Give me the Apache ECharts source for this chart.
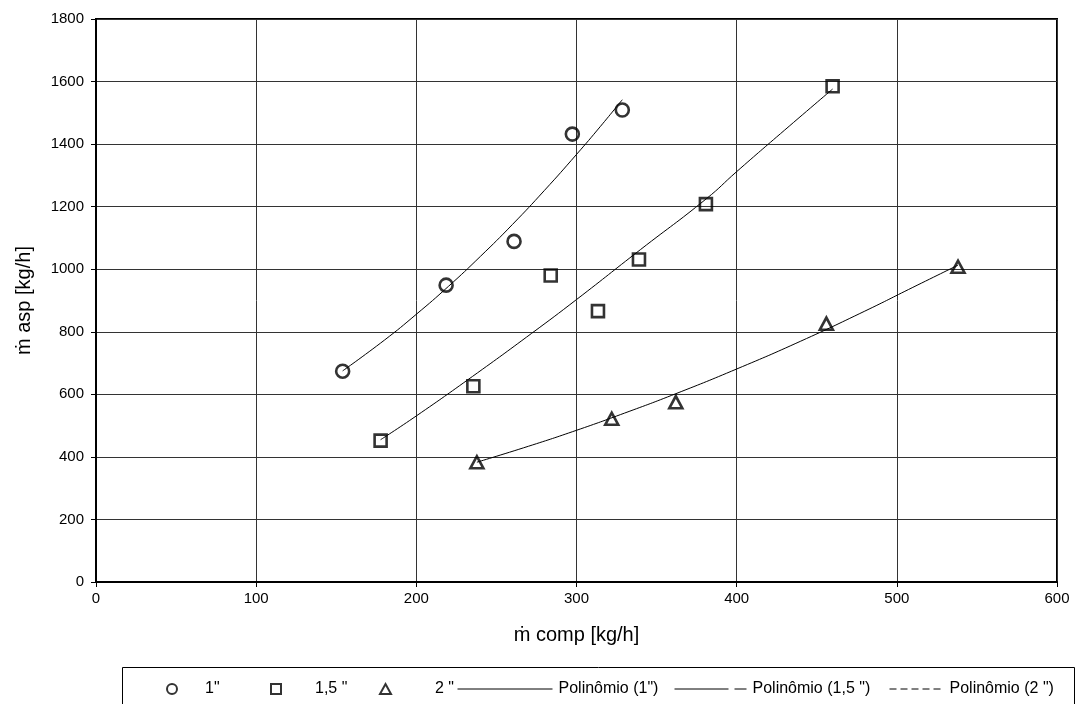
<!DOCTYPE html>
<html>
<head>
<meta charset="utf-8">
<script src="https://cdn.jsdelivr.net/npm/echarts@6/dist/echarts.min.js"></script>
<style>
  html, body { margin: 0; padding: 0; background: #fff; }
  #chart { width: 1077px; height: 704px; }
</style>
</head>
<body>
<div id="chart"></div>
<script>
const pts1 = [[154, 674], [218.6, 949], [261, 1089], [297.4, 1432], [328.6, 1509]]
const pts15 = [[177.7, 452], [235.6, 626], [283.9, 980], [313.4, 866], [339, 1031], [380.8, 1208], [459.9, 1585]]
const pts2 = [[237.8, 383], [322, 522], [362, 575], [456, 826], [538.2, 1008]]

// polynomial trend lines
const trend1 = [[154, 675], [180, 773], [200, 856], [220, 945], [240, 1041], [260, 1143], [280, 1252], [300, 1367], [315, 1457], [328.6, 1542]]
const trend15 = [[177.7, 455], [200, 531], [235, 657], [272, 795], [300, 903], [340, 1063], [381, 1225], [400, 1312], [430, 1445], [459.9, 1576]]
const trend2 = [[237.8, 383], [270, 434], [300, 485], [330, 540], [362, 602], [400, 681], [440, 770], [480, 866], [510, 942], [538.2, 1013]]

const names = ['1"', '1,5 "', '2 "', 'Polinômio (1")', 'Polinômio (1,5 ")', 'Polinômio (2 ")']

const font = 'Liberation Sans, Arial, sans-serif'
const chart = echarts.init(document.getElementById('chart'))

const markerStyle = { color: 'rgba(0,0,0,0)', borderColor: '#000', borderWidth: 2.6 }
const trendStyle = { color: '#000', width: 1 }

// one legend per entry so each can sit where it does in the original
const legendBase = {
  orient: 'horizontal',
  top: 676,
  textStyle: { color: '#000', fontFamily: font, fontSize: 16 },
  itemGap: 0,
  selectedMode: false
}
const legends = [
  { left: 161, data: [names[0]], itemWidth: 10, itemHeight: 10, pad: 23 },
  { left: 265, data: [names[1]], itemWidth: 10, itemHeight: 10, pad: 29 },
  { left: 374, data: [names[2]], itemWidth: 11, itemHeight: 10, pad: 39 },
  { left: 452, data: [names[3]], itemWidth: 95, itemHeight: 10, pad: 1, line: { type: 'solid', width: 1, color: '#000' } },
  { left: 669, data: [names[4]], itemWidth: 72, itemHeight: 10, pad: 1, line: { type: [54, 6, 12, 0], width: 1, color: '#000' } },
  { left: 884, data: [names[5]], itemWidth: 53, itemHeight: 10, pad: 2, line: { type: [7, 4], width: 1, color: '#000' } }
].map(l => {
  const o = Object.assign({}, legendBase, {
    left: l.left,
    data: l.data,
    itemWidth: l.itemWidth,
    itemHeight: l.itemHeight,
    textStyle: Object.assign({}, legendBase.textStyle, { padding: [0, 0, 0, l.pad] })
  })
  if (l.line) {
    o.lineStyle = l.line
    // hide the dot that a line series puts in its legend icon
    o.itemStyle = { color: 'rgba(0,0,0,0)', borderWidth: 0, opacity: 0 }
  }
  return o
})

const option = {
  animation: false,
  backgroundColor: '#fff',
  grid: {
    left: 96, right: 20, top: 19, bottom: 122,
    show: true, borderColor: '#000', borderWidth: 2
  },
  legend: legends,
  graphic: [{
    type: 'rect',
    shape: { x: 122.5, y: 667.5, width: 952, height: 40 },
    style: { fill: 'none', stroke: '#000', lineWidth: 1 }
  }],
  xAxis: {
    type: 'value', min: 0, max: 600, interval: 100,
    name: 'ṁ comp [kg/h]', nameLocation: 'middle', nameGap: 43,
    nameTextStyle: { color: '#000', fontFamily: font, fontSize: 20 },
    axisLine: { show: true, lineStyle: { color: '#000', width: 2 } },
    axisTick: { show: true, length: 5, lineStyle: { color: '#000' } },
    axisLabel: { color: '#000', fontFamily: font, fontSize: 15, margin: 9 },
    splitLine: { lineStyle: { color: '#333', width: 1 } }
  },
  yAxis: {
    type: 'value', min: 0, max: 1800, interval: 200,
    name: 'ṁ asp [kg/h]', nameLocation: 'middle', nameGap: 62, nameRotate: 90,
    nameTextStyle: { color: '#000', fontFamily: font, fontSize: 20 },
    axisLine: { show: true, lineStyle: { color: '#000', width: 2 } },
    axisTick: { show: true, length: 5, lineStyle: { color: '#000' } },
    axisLabel: { color: '#000', fontFamily: font, fontSize: 15, margin: 12, formatter: v => String(v) },
    splitLine: { lineStyle: { color: '#333', width: 1 } }
  },
  series: [
    { name: names[0], type: 'scatter', data: pts1, symbol: 'circle', symbolSize: 13, itemStyle: markerStyle, z: 3 },
    { name: names[1], type: 'scatter', data: pts15, symbol: 'rect', symbolSize: 12, itemStyle: markerStyle, z: 3 },
    { name: names[2], type: 'scatter', data: pts2, symbol: 'triangle', symbolSize: [13, 12], itemStyle: markerStyle, z: 3 },
    { name: names[3], type: 'line', data: trend1, smooth: true, symbol: 'none', lineStyle: trendStyle, itemStyle: { color: '#000' } },
    { name: names[4], type: 'line', data: trend15, smooth: true, symbol: 'none', lineStyle: trendStyle, itemStyle: { color: '#000' } },
    { name: names[5], type: 'line', data: trend2, smooth: true, symbol: 'none', lineStyle: trendStyle, itemStyle: { color: '#000' } }
  ]
}

chart.setOption(option)
</script>
</body>
</html>
